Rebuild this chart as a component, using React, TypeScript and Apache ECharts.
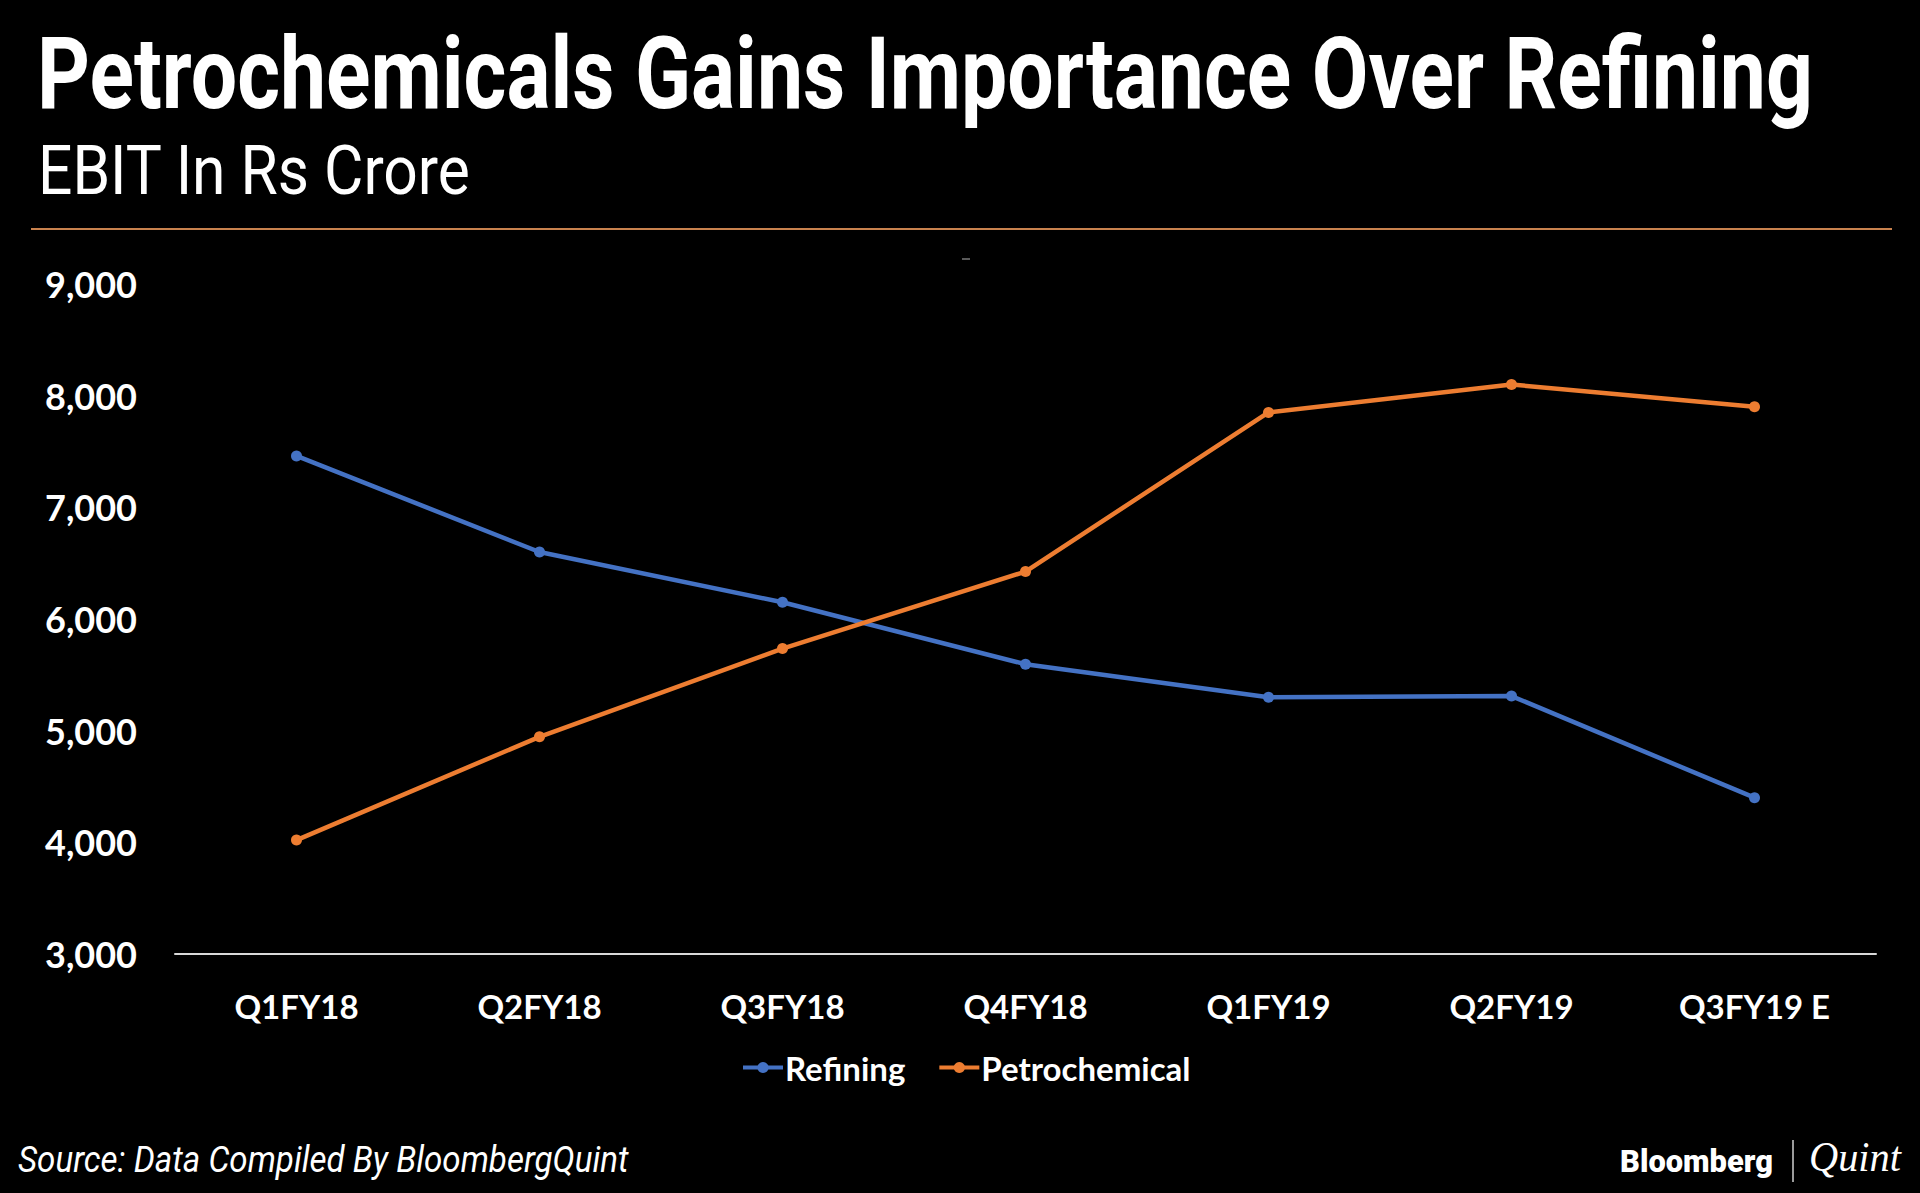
import React, { useEffect, useRef } from 'react';
import * as echarts from 'echarts';

const categories = ['Q1FY18', 'Q2FY18', 'Q3FY18', 'Q4FY18', 'Q1FY19', 'Q2FY19', 'Q3FY19 E'];
const refining = [7460, 6600, 6150, 5595, 5300, 5310, 4400];
const petrochemical = [4020, 4945, 5735, 6425, 7850, 8100, 7900];
const seriesNames = ['Refining', 'Petrochemical'];
const yMin = 3000;
const yMax = 9000;
const yInterval = 1000;

const titleText = 'Petrochemicals Gains Importance Over Refining';
const subtitleText = 'EBIT In Rs Crore';
const sourceText = 'Source: Data Compiled By BloombergQuint';
const brandA = 'Bloomberg';
const brandB = 'Quint';

const W = 1920;
const H = 1193;

let measureCtx: CanvasRenderingContext2D | null = null;
function measure(text: string, font: string): number {
  if (!measureCtx) measureCtx = document.createElement('canvas').getContext('2d');
  if (!measureCtx) return 0;
  measureCtx.font = font;
  return measureCtx.measureText(text).width;
}

// text element fitted to a target width (condensed look via scaleX)
function fittedText(o: {
  text: string; x: number; baseline: number; width: number; size: number;
  family: string; weight?: string; style?: string; central: number; fill?: string;
}) {
  const weight = o.weight || 'normal';
  const fstyle = o.style || 'normal';
  const w = measure(o.text, `${fstyle} ${weight} ${o.size}px ${o.family}`);
  const sx = w > 0 ? o.width / w : 1;
  return {
    type: 'text',
    x: o.x,
    y: o.baseline - o.central * o.size,
    scaleX: sx,
    style: {
      text: o.text,
      fill: o.fill || '#ffffff',
      fontFamily: o.family,
      fontSize: o.size,
      fontWeight: weight,
      fontStyle: fstyle,
      align: 'left',
      verticalAlign: 'middle',
    },
  };
}

export default function App() {
  const ref = useRef<HTMLDivElement>(null);

  useEffect(() => {
    document.body.style.margin = '0';
    document.body.style.background = '#000';
    if (!ref.current) return;
    const chart = echarts.init(ref.current, undefined, { renderer: 'svg', width: W, height: H });

    const option: any = {
      animation: false,
      backgroundColor: '#000000',
      grid: { left: 175, right: 44, top: 284, bottom: 239, containLabel: false },
      legend: {
        data: seriesNames,
        left: 736,
        top: 1046,
        itemWidth: 40,
        itemHeight: 14,
        itemGap: 32,
        lineStyle: { width: 4 },
        textStyle: { color: '#ffffff', fontFamily: 'Lato', fontWeight: 'bold', fontSize: 33, padding: [0, 0, 0, -3] },
      },
      xAxis: {
        type: 'category',
        data: categories,
        boundaryGap: true,
        axisLine: { show: true, lineStyle: { color: '#d9d9d9', width: 2 } },
        axisTick: { show: false },
        axisLabel: { color: '#ffffff', fontFamily: 'Lato', fontWeight: 'bold', fontSize: 33, margin: 35 },
        splitLine: { show: false },
      },
      yAxis: {
        type: 'value',
        min: yMin,
        max: yMax,
        interval: yInterval,
        axisLine: { show: false },
        axisTick: { show: false },
        splitLine: { show: false },
        axisLabel: {
          color: '#ffffff', fontFamily: 'Lato', fontWeight: 'bold', fontSize: 36, margin: 38,
          formatter: (v: number) => v.toLocaleString('en-US'),
        },
      },
      series: [
        {
          name: seriesNames[0], type: 'line', data: refining, symbol: 'circle', symbolSize: 11,
          itemStyle: { color: '#4472C4' }, lineStyle: { color: '#4472C4', width: 4.5 },
        },
        {
          name: seriesNames[1], type: 'line', data: petrochemical, symbol: 'circle', symbolSize: 11,
          itemStyle: { color: '#ED7D31' }, lineStyle: { color: '#ED7D31', width: 4.5 },
        },
      ],
      graphic: [
        fittedText({ text: titleText, x: 37, baseline: 103, width: 1776, size: 100, family: 'Roboto', weight: 'bold', central: 0.29 }),
        fittedText({ text: subtitleText, x: 38, baseline: 190, width: 433, size: 68, family: 'Roboto', weight: 'normal', central: 0.29 }),
        { type: 'line', shape: { x1: 31, y1: 229, x2: 1892, y2: 229 }, style: { stroke: '#c9824e', lineWidth: 2 } },
        { type: 'line', shape: { x1: 962, y1: 259, x2: 970, y2: 259 }, style: { stroke: '#777777', lineWidth: 1.5 } },
        fittedText({ text: sourceText, x: 18, baseline: 1170, width: 611, size: 37, family: 'Roboto', style: 'italic', central: 0.29 }),
        fittedText({ text: brandA, x: 1620, baseline: 1170, width: 153, size: 31, family: 'Roboto', weight: '900', central: 0.29 }),
        { type: 'line', shape: { x1: 1793, y1: 1140, x2: 1793, y2: 1182 }, style: { stroke: '#cfcfcf', lineWidth: 1.5 } },
        fittedText({ text: brandB, x: 1809, baseline: 1170, width: 92, size: 42, family: 'Liberation Serif', style: 'italic', central: 0.305 }),
      ],
    };
    chart.setOption(option);
    return () => chart.dispose();
  }, []);

  return <div ref={ref} style={{ position: 'fixed', left: 0, top: 0, width: W, height: H, background: '#000' }} />;
}
